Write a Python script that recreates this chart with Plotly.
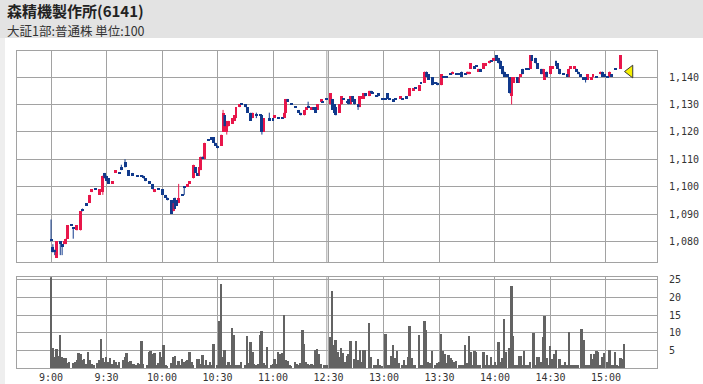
import plotly.graph_objects as go

# ---------------- data ----------------
TITLE = "森精機製作所(6141)"
SUBTITLE = "大証1部:普通株 単位:100"

c_time = [
    "9:00", "9:01", "9:02", "9:03", "9:05", "9:06", "9:07", "9:08", "9:09", "9:11",
    "9:12", "9:14", "9:16", "9:17", "9:19", "9:21", "9:22", "9:24", "9:26", "9:28",
    "9:29", "9:30", "9:31", "9:33", "9:35", "9:37", "9:38", "9:40", "9:42", "9:44",
    "9:47", "9:49", "9:50", "9:51", "9:53", "9:55", "9:56", "9:58", "10:00", "10:02",
    "10:03", "10:05", "10:06", "10:07", "10:08", "10:09", "10:11", "10:12", "10:14", "10:15",
    "10:17", "10:18", "10:19", "10:20", "10:21", "10:22", "10:23", "10:25", "10:27", "10:28",
    "10:29", "10:30", "10:32", "10:33", "10:34", "10:35", "10:36", "10:38", "10:39", "10:40",
    "10:42", "10:43", "10:45", "10:46", "10:48", "10:49", "10:51", "10:53", "10:54", "10:55",
    "10:58", "11:00", "11:01", "11:03", "11:05", "11:06", "11:07", "11:08", "11:10", "11:12",
    "11:14", "11:15", "11:17", "11:18", "11:19", "11:21", "11:22", "11:23", "11:24", "11:26",
    "11:27", "11:29", "12:31", "12:32", "12:33", "12:34", "12:36", "12:37", "12:38", "12:40",
    "12:41", "12:42", "12:43", "12:44", "12:46", "12:47", "12:48", "12:49", "12:50", "12:52",
    "12:53", "12:54", "12:56", "12:57", "12:59", "13:01", "13:02", "13:03", "13:05", "13:06",
    "13:09", "13:10", "13:12", "13:14", "13:16", "13:17", "13:19", "13:20", "13:22", "13:23",
    "13:24", "13:26", "13:28", "13:29", "13:31", "13:32", "13:34", "13:36", "13:37", "13:39",
    "13:41", "13:42", "13:44", "13:45", "13:46", "13:47", "13:49", "13:50", "13:51", "13:52",
    "13:54", "13:55", "13:57", "13:58", "13:59", "14:01", "14:02", "14:03", "14:04", "14:05",
    "14:07", "14:08", "14:09", "14:10", "14:12", "14:13", "14:14", "14:15", "14:17", "14:18",
    "14:19", "14:20", "14:22", "14:23", "14:25", "14:26", "14:27", "14:28", "14:30", "14:31",
    "14:33", "14:34", "14:35", "14:37", "14:39", "14:40", "14:41", "14:43", "14:44", "14:45",
    "14:46", "14:48", "14:49", "14:50", "14:52", "14:53", "14:55", "14:57", "14:58", "14:59",
    "15:01", "15:02", "15:03", "15:05", "15:08",
]
c_open = [
    1081, 1078, 1077, 1074, 1080, 1079, 1079, 1079, 1081, 1086,
    1085, 1084, 1084, 1092, 1094, 1094, 1098, 1099, 1097, 1098,
    1105, 1104, 1103, 1101, 1105, 1105, 1107, 1109, 1106, 1105,
    1104, 1104, 1104, 1103, 1102, 1101, 1098, 1099, 1099, 1097,
    1096, 1095, 1091, 1096, 1095, 1094, 1097, 1100, 1100, 1101,
    1103, 1107, 1105, 1104, 1106, 1111, 1110, 1117, 1118, 1118,
    1116, 1115, 1115, 1120, 1126, 1120, 1122, 1123, 1124, 1125,
    1129, 1130, 1130, 1129, 1127, 1125, 1126, 1126, 1126, 1120,
    1125, 1125, 1125, 1125, 1125, 1125, 1127, 1132, 1130, 1129,
    1128, 1127, 1126, 1128, 1129, 1128, 1129, 1129, 1128, 1131,
    1131, 1132, 1130, 1132, 1130, 1129, 1127, 1130, 1132, 1131,
    1132, 1130, 1133, 1132, 1130, 1129, 1132, 1132, 1134, 1133,
    1135, 1134, 1133, 1134, 1132, 1132, 1134, 1132, 1132, 1132,
    1132, 1132, 1133, 1133, 1135, 1136, 1135, 1138, 1138, 1142,
    1141, 1140, 1138, 1138, 1137, 1140, 1140, 1141, 1141, 1141,
    1141, 1142, 1141, 1141, 1141, 1143, 1144, 1144, 1142, 1143,
    1143, 1144, 1145, 1146, 1146, 1148, 1147, 1146, 1144, 1142,
    1141, 1140, 1133, 1138, 1140, 1138, 1140, 1143, 1143, 1143,
    1143, 1148, 1147, 1145, 1143, 1141, 1139, 1142, 1141, 1143,
    1146, 1145, 1143, 1141, 1141, 1140, 1143, 1143, 1143, 1142,
    1141, 1140, 1140, 1139, 1139, 1140, 1140, 1141, 1142, 1141,
    1140, 1140, 1141, 1143, 1143,
]
c_high = [
    1088, 1079, 1077, 1080, 1080, 1079, 1080, 1081, 1086, 1086,
    1085, 1086, 1091, 1092, 1094, 1097, 1099, 1099, 1099, 1104,
    1105, 1104, 1103, 1102, 1106, 1105, 1108, 1110, 1106, 1105,
    1104, 1104, 1104, 1103, 1102, 1101, 1099, 1099, 1099, 1097,
    1096, 1095, 1094, 1096, 1095, 1101, 1097, 1100, 1101, 1102,
    1108, 1107, 1105, 1107, 1111, 1111, 1116, 1117, 1118, 1118,
    1116, 1115, 1119, 1128, 1126, 1124, 1124, 1125, 1126, 1129,
    1130, 1130, 1130, 1129, 1127, 1127, 1127, 1126, 1126, 1125,
    1127, 1125, 1126, 1125, 1125, 1127, 1132, 1132, 1130, 1129,
    1128, 1127, 1128, 1129, 1131, 1129, 1129, 1129, 1130, 1132,
    1131, 1132, 1134, 1132, 1130, 1129, 1130, 1133, 1132, 1131,
    1132, 1133, 1133, 1132, 1130, 1133, 1133, 1134, 1134, 1135,
    1135, 1134, 1133, 1134, 1132, 1132, 1134, 1132, 1132, 1132,
    1133, 1132, 1133, 1136, 1136, 1136, 1137, 1138, 1142, 1142,
    1141, 1140, 1138, 1138, 1141, 1140, 1140, 1141, 1142, 1141,
    1141, 1142, 1141, 1142, 1142, 1145, 1144, 1144, 1143, 1143,
    1145, 1145, 1146, 1146, 1147, 1148, 1147, 1146, 1144, 1142,
    1141, 1140, 1140, 1140, 1140, 1140, 1141, 1143, 1143, 1143,
    1148, 1148, 1147, 1145, 1143, 1143, 1141, 1142, 1144, 1144,
    1146, 1145, 1143, 1141, 1141, 1143, 1144, 1144, 1143, 1142,
    1141, 1140, 1140, 1141, 1140, 1141, 1140, 1142, 1142, 1141,
    1140, 1142, 1141, 1143, 1148,
]
c_low = [
    1080, 1076, 1075, 1074, 1075, 1075, 1079, 1079, 1081, 1086,
    1081, 1084, 1084, 1091, 1093, 1094, 1098, 1099, 1097, 1097,
    1103, 1102, 1101, 1101, 1105, 1105, 1106, 1107, 1104, 1104,
    1104, 1104, 1103, 1102, 1101, 1099, 1098, 1099, 1097, 1096,
    1095, 1090, 1091, 1092, 1093, 1094, 1097, 1097, 1100, 1101,
    1103, 1105, 1104, 1104, 1106, 1110, 1110, 1117, 1117, 1116,
    1115, 1114, 1115, 1120, 1122, 1119, 1122, 1123, 1124, 1125,
    1129, 1130, 1129, 1127, 1124, 1125, 1125, 1126, 1119, 1120,
    1124, 1124, 1125, 1125, 1125, 1125, 1127, 1131, 1130, 1129,
    1127, 1126, 1126, 1128, 1129, 1128, 1128, 1127, 1128, 1131,
    1131, 1132, 1130, 1128, 1127, 1126, 1127, 1130, 1132, 1131,
    1130, 1130, 1131, 1130, 1128, 1129, 1132, 1132, 1133, 1133,
    1134, 1134, 1133, 1133, 1132, 1132, 1132, 1132, 1131, 1132,
    1132, 1132, 1132, 1133, 1135, 1136, 1135, 1138, 1138, 1140,
    1139, 1137, 1138, 1137, 1137, 1140, 1140, 1141, 1141, 1141,
    1141, 1140, 1141, 1141, 1141, 1143, 1143, 1144, 1142, 1142,
    1143, 1144, 1145, 1146, 1146, 1146, 1145, 1143, 1141, 1140,
    1140, 1134, 1130, 1138, 1138, 1138, 1140, 1141, 1143, 1143,
    1143, 1146, 1145, 1143, 1141, 1141, 1139, 1140, 1141, 1143,
    1144, 1143, 1141, 1141, 1140, 1140, 1143, 1143, 1142, 1141,
    1140, 1139, 1138, 1139, 1139, 1140, 1140, 1141, 1140, 1140,
    1140, 1140, 1140, 1143, 1143,
]
c_close = [
    1080, 1076, 1076, 1080, 1079, 1078, 1080, 1081, 1086, 1086,
    1085, 1086, 1091, 1091, 1093, 1097, 1099, 1099, 1099, 1104,
    1103, 1102, 1101, 1102, 1106, 1105, 1106, 1107, 1104, 1104,
    1104, 1104, 1103, 1102, 1101, 1099, 1099, 1099, 1097, 1096,
    1095, 1090, 1094, 1092, 1093, 1096, 1097, 1100, 1101, 1102,
    1108, 1105, 1104, 1107, 1111, 1110, 1116, 1117, 1117, 1116,
    1115, 1114, 1119, 1127, 1122, 1124, 1124, 1125, 1126, 1129,
    1130, 1130, 1129, 1127, 1124, 1127, 1126, 1126, 1120, 1125,
    1124, 1124, 1126, 1125, 1125, 1127, 1132, 1131, 1130, 1129,
    1127, 1126, 1128, 1129, 1129, 1129, 1128, 1127, 1130, 1132,
    1131, 1132, 1134, 1128, 1127, 1126, 1130, 1133, 1132, 1131,
    1130, 1133, 1131, 1130, 1129, 1133, 1133, 1134, 1133, 1135,
    1134, 1134, 1133, 1133, 1132, 1132, 1132, 1132, 1131, 1132,
    1133, 1132, 1132, 1136, 1136, 1136, 1137, 1138, 1142, 1140,
    1139, 1137, 1138, 1137, 1141, 1140, 1140, 1141, 1142, 1141,
    1141, 1140, 1141, 1142, 1142, 1145, 1143, 1144, 1143, 1142,
    1145, 1145, 1146, 1146, 1147, 1146, 1145, 1143, 1141, 1140,
    1140, 1134, 1140, 1140, 1138, 1140, 1141, 1141, 1143, 1143,
    1148, 1146, 1145, 1143, 1141, 1143, 1141, 1140, 1144, 1144,
    1144, 1143, 1141, 1141, 1140, 1143, 1144, 1144, 1142, 1141,
    1140, 1139, 1139, 1141, 1140, 1141, 1140, 1142, 1140, 1140,
    1140, 1142, 1140, 1143, 1148,
]

# per-minute volume (x100 shares): morning from 9:00, afternoon from 12:30
vol_am = [
    27, 5.5, 3.1, 5.3, 3.4, 9.3, 2.9, 2.7, 2.7, 1.4,
    1.5, 0, 1.4, 1.7, 2.2, 4.1, 3.8, 2.2, 2.5, 1,
    4.4, 2.2, 1, 0.8, 0, 1.2, 2.2, 8.2, 2.7, 1.7,
    2.9, 1.7, 2.7, 1.1, 2.2, 1.5, 0.8, 1.7, 0, 2.2,
    2.9, 4.1, 1.5, 1.9, 1, 1.1, 0.8, 1.4, 1, 7.6,
    1, 0, 0.8, 4.4, 4.8, 3.8, 4.1, 0.8, 1.2, 4.4,
    3.1, 6.5, 0.8, 0.3, 0, 1.2, 3.1, 3.4, 0.8, 1.9,
    0.8, 2.4, 1.5, 1.9, 2.2, 4.4, 1.5, 0.8, 0, 2.4,
    2.5, 1, 3.6, 0.8, 2.2, 0.8, 1.7, 0.8, 6.8, 0,
    0.8, 13.3, 23.8, 2.9, 5, 0.8, 1.7, 0.8, 11.2, 9.3,
    0.8, 0.8, 0.8, 1.7, 0, 0.8, 8.9, 1.2, 7.2, 4.4,
    1, 0.8, 1, 9.3, 10.5, 1.4, 0.8, 6, 0, 0.8,
    1.1, 2.5, 1, 4.4, 3.8, 4.1, 14.9, 2.2, 1.9, 0.8,
    0.6, 0, 1.5, 1.1, 0.8, 1.4, 10.8, 6.8, 1.5, 1.1,
    0.8, 1, 0.8, 5, 5.3, 3.8, 1, 0, 0.8, 0.8,
]
vol_pm = [
    0, 8.6, 21.7, 6.3, 7.9, 4.4, 2.9, 5.5, 4.1, 1.7,
    3.4, 3.8, 7.6, 0, 2.4, 7.6, 2.2, 5, 1.7, 5,
    5, 0, 12.7, 3, 0, 0.9, 0.9, 2.5, 0.8, 0.6,
    0, 9.6, 0.8, 0.9, 3.4, 6.5, 2.7, 4.8, 1.2, 0,
    0.9, 2.2, 0.9, 3.1, 11.9, 2.7, 0.9, 0.8, 0, 9.3,
    0.8, 0.8, 13.3, 10.7, 1.7, 1.2, 4.8, 0, 0.8, 1.2,
    1.5, 9.6, 4.8, 3.8, 1.2, 3.6, 2.7, 2.2, 1.5, 1.9,
    0, 0.9, 0.8, 0.8, 6.3, 1.2, 9.1, 4.4, 0.8, 4.8,
    4.4, 0.8, 0.9, 0, 4.4, 0.8, 3.6, 0.8, 3.1, 0.8,
    1.5, 0.8, 7.4, 1.5, 2.7, 13.9, 4.4, 0, 5.5, 23.1,
    9.1, 0.8, 0.8, 3.4, 3.4, 0.8, 4.8, 0.8, 0.8, 1.5,
    0, 9.8, 0.9, 3.1, 2.9, 1.7, 8.6, 14.6, 2.7, 0.8,
    6.2, 2.5, 3.8, 5, 0, 2.5, 0.9, 0.8, 1.7, 0.8,
    10.1, 0.8, 0.8, 0.8, 0.8, 0.8, 0, 11, 7.9, 0.8,
    0.9, 0.8, 3.8, 2.5, 3.8, 4.8, 4.4, 0.8, 3.1, 4.1,
    0, 1.7, 5, 0.8, 0.8, 4.4, 0.8, 0.3, 2.8, 2.4,
    6.7,
]

time_ticks = ["9:00", "9:30", "10:00", "10:30", "11:00", "12:30",
              "13:00", "13:30", "14:00", "14:30", "15:00"]
price_ticks = [1080, 1090, 1100, 1110, 1120, 1130, 1140]
vol_ticks = [5, 10, 15, 20, 25]
marker_time = "15:13"
marker_price = 1142

assert len(c_time) == len(c_open) == len(c_high) == len(c_low) == len(c_close)


# ---------------- helpers ----------------
def to_x(t):
    """Session-minute position: 9:00 -> 0, 11:30/12:30 -> 150, 15:00 -> 300."""
    h, m = (int(v) for v in t.split(":"))
    v = h * 60 + m
    return v - 540 if v <= 690 else v - 750 + 150


def minute_labels(start, n):
    h, m = (int(v) for v in start.split(":"))
    out = []
    for i in range(n):
        tot = h * 60 + m + i
        out.append(f"{tot // 60}:{tot % 60:02d}")
    return out


UP = "#e8174b"
DN = "#113a8c"
VOLC = "#636363"
GRID = "#a2a2a2"
TXT = "#333333"
DOJI_H = 0.38
BODY_W = 1.6

xs = [to_x(t) for t in c_time]

up_x, up_base, up_h = [], [], []
dn_x, dn_base, dn_h = [], [], []
wu_x, wu_y, wd_x, wd_y = [], [], [], []
for x, o, h, l, c in zip(xs, c_open, c_high, c_low, c_close):
    if c > o:
        up_x.append(x); up_base.append(o); up_h.append(c - o)
        if h > l:
            wu_x += [x, x, None]; wu_y += [l, h, None]
    else:
        dn_x.append(x)
        if c == o:
            dn_base.append(c - DOJI_H / 2); dn_h.append(DOJI_H)
        else:
            dn_base.append(c); dn_h.append(o - c)
        if h > l:
            wd_x += [x, x, None]; wd_y += [l, h, None]

vol_x = [to_x(t) for t in minute_labels("9:00", len(vol_am)) + minute_labels("12:30", len(vol_pm))]
vol_y = vol_am + vol_pm

fig = go.Figure()
fig.add_trace(go.Scatter(x=wu_x, y=wu_y, mode="lines", line=dict(color=UP, width=1),
                         hoverinfo="skip", xaxis="x", yaxis="y"))
fig.add_trace(go.Scatter(x=wd_x, y=wd_y, mode="lines", line=dict(color=DN, width=1),
                         hoverinfo="skip", xaxis="x", yaxis="y"))
fig.add_trace(go.Bar(x=up_x, y=up_h, base=up_base, width=BODY_W, marker=dict(color=UP, line=dict(width=0)),
                     xaxis="x", yaxis="y"))
fig.add_trace(go.Bar(x=dn_x, y=dn_h, base=dn_base, width=BODY_W, marker=dict(color=DN, line=dict(width=0)),
                     xaxis="x", yaxis="y"))
fig.add_trace(go.Scatter(x=[to_x(marker_time)], y=[marker_price], mode="markers",
                         marker=dict(symbol="triangle-left", size=11, color="#f5f000",
                                     line=dict(color="#3a3a3a", width=1)),
                         cliponaxis=False, xaxis="x", yaxis="y"))
fig.add_trace(go.Bar(x=vol_x, y=vol_y, width=1.0, marker=dict(color=VOLC, line=dict(width=0)),
                     xaxis="x2", yaxis="y2"))

W, H = 703, 384
L, R, T, B = 17, 46, 51, 16
PW, PH = W - L - R, H - T - B


def px_x(p):
    return (p - L) / PW


def px_y(p):
    return (H - B - p) / PH


xcommon = dict(range=[-18.4, 327.6], tickvals=[to_x(t) for t in time_ticks],
               showgrid=True, gridcolor=GRID, gridwidth=1, showline=True, mirror=True,
               linecolor=GRID, linewidth=1, zeroline=False, ticks="", fixedrange=True)
ycommon = dict(side="right", showgrid=True, gridcolor=GRID, gridwidth=1, showline=True,
               mirror=True, linecolor=GRID, linewidth=1, zeroline=False, ticks="",
               ticklabelstandoff=9,
               tickfont=dict(family="DejaVu Sans Mono", size=10, color=TXT), fixedrange=True)

fig.update_layout(
    width=W, height=H,
    margin=dict(l=L, r=R, t=T, b=B, autoexpand=False),
    paper_bgcolor="white", plot_bgcolor="white",
    showlegend=False, barmode="overlay", bargap=0,
    xaxis=dict(xcommon, domain=[0, 1], anchor="y", showticklabels=False),
    yaxis=dict(ycommon, domain=[px_y(262), 1], anchor="x", range=[1072.5, 1149.5],
               tickvals=price_ticks, ticktext=[f"{v:,}" for v in price_ticks]),
    xaxis2=dict(xcommon, domain=[0, 1], anchor="y2", ticktext=time_ticks,
                tickfont=dict(family="DejaVu Sans Mono", size=10, color=TXT)),
    yaxis2=dict(ycommon, domain=[0, px_y(277.3)], anchor="x2", range=[0, 25.7],
                tickvals=vol_ticks, ticktext=[str(v) for v in vol_ticks]),
    shapes=[
        dict(type="rect", xref="paper", yref="paper", x0=px_x(-2), x1=px_x(W + 2),
             y0=px_y(38), y1=px_y(-2), fillcolor="#e3e3e3", line=dict(width=0), layer="below"),
        dict(type="rect", xref="paper", yref="paper", x0=px_x(-2), x1=px_x(5),
             y0=px_y(H + 2), y1=px_y(38), fillcolor="#eeeeee", line=dict(width=0), layer="below"),
        dict(type="line", xref="x", yref="y domain", x0=149.1, x1=149.1, y0=0, y1=1,
             line=dict(color=GRID, width=1), layer="below"),
        dict(type="line", xref="x2", yref="y2 domain", x0=149.1, x1=149.1, y0=0, y1=1,
             line=dict(color=GRID, width=1), layer="below"),
    ],
    annotations=[
        dict(xref="paper", yref="paper", x=px_x(5), y=px_y(10.5), xanchor="left", yanchor="middle",
             text="<b>" + TITLE + "</b>", showarrow=False,
             font=dict(family="Noto Sans CJK JP", size=15, color="#222222")),
        dict(xref="paper", yref="paper", x=px_x(5), y=px_y(30.5), xanchor="left", yanchor="middle",
             text=SUBTITLE, showarrow=False,
             font=dict(family="Noto Sans CJK JP", size=12.5, color=TXT)),
    ],
)

fig.write_html("out.html")
